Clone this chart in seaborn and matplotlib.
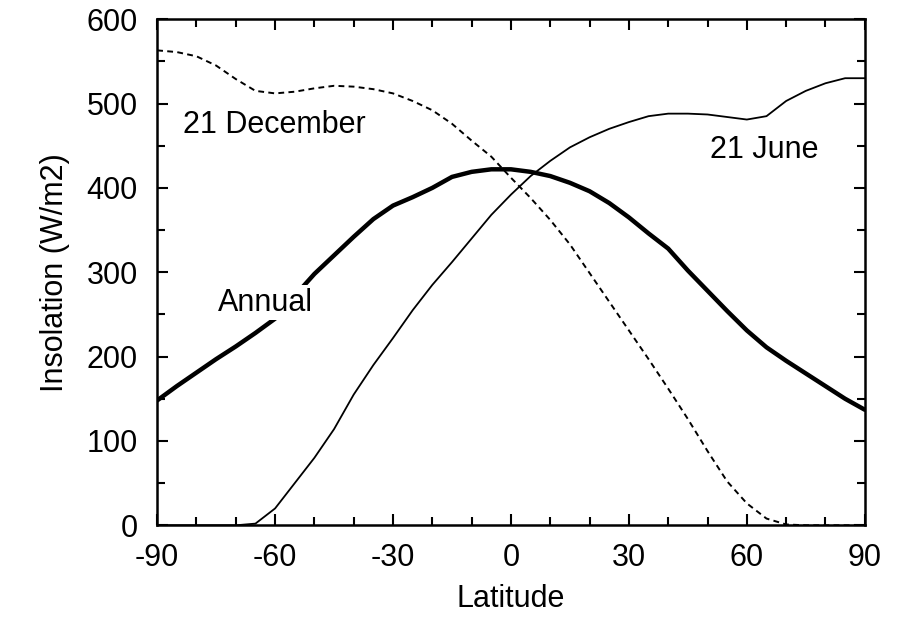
import numpy as np
import pandas as pd
import matplotlib
matplotlib.use("Agg")
import matplotlib.pyplot as plt
from matplotlib.ticker import MultipleLocator
import seaborn as sns

latitude = list(range(-90, 95, 5))
annual = [148, 165, 181, 197, 212, 228, 245, 272, 298, 320, 342, 363, 379, 389, 400, 413,
          419, 422, 422, 419, 414, 406, 396, 382, 365, 346, 328, 302, 278, 254, 231, 211,
          195, 180, 165, 150, 137]
june21 = [0, 0, 0, 0, 0, 2, 20, 50, 80, 114, 155, 190, 222, 255, 285, 312, 340, 368, 392,
          414, 432, 448, 460, 470, 478, 485, 488, 488, 487, 484, 481, 485, 503, 515, 524, 530, 530]
dec21 = [563, 561, 556, 545, 529, 515, 512, 514, 518, 521, 520, 517, 512, 503, 492, 476,
         456, 437, 412, 388, 362, 333, 299, 265, 231, 197, 162, 126, 88, 52, 26, 8, 1, 0, 0, 0, 0]

xticks = [-90, -60, -30, 0, 30, 60, 90]
yticks = [0, 100, 200, 300, 400, 500, 600]

df = pd.DataFrame({"Latitude": latitude, "Annual": annual, "21 June": june21, "21 December": dec21})

sns.set_style("ticks")
plt.rcParams["font.family"] = ["Liberation Sans", "DejaVu Sans"]
plt.rcParams["text.color"] = "black"
plt.rcParams["axes.labelcolor"] = "black"
plt.rcParams["xtick.color"] = "black"
plt.rcParams["ytick.color"] = "black"

FS = 22

fig = plt.figure(figsize=(8.98, 6.18), dpi=100)
ax = fig.add_axes([0.175, 0.150, 0.788, 0.819])

sns.lineplot(data=df, x="Latitude", y="Annual", ax=ax, color="black", linewidth=3.2)
sns.lineplot(data=df, x="Latitude", y="21 June", ax=ax, color="black", linewidth=1.3)
sns.lineplot(data=df, x="Latitude", y="21 December", ax=ax, color="black", linewidth=1.4,
             dashes=False, linestyle=(0, (3, 2.2)))

ax.set_xlim(-90, 90)
ax.set_ylim(0, 600)
ax.set_xticks(xticks)
ax.set_xticklabels([str(t) for t in xticks])
ax.set_yticks(yticks)
ax.set_yticklabels([str(t) for t in yticks])
ax.xaxis.set_minor_locator(MultipleLocator(10))
ax.yaxis.set_minor_locator(MultipleLocator(50))
ax.tick_params(which="both", direction="in", top=True, right=True, color="black", width=1.5)
ax.tick_params(which="major", length=8, labelsize=FS)
ax.tick_params(axis="x", which="major", pad=13)
ax.tick_params(axis="y", which="major", pad=14)
ax.tick_params(which="minor", length=6)
for s in ax.spines.values():
    s.set_linewidth(1.8)
    s.set_color("black")

ax.set_xlabel("Latitude", fontsize=FS, labelpad=8)
ax.set_ylabel("Insolation (W/m2)", fontsize=FS, labelpad=12)

ax.text(-83.5, 474, "21 December", fontsize=FS, va="center", ha="left")
ax.text(50.6, 445, "21 June", fontsize=FS, va="center", ha="left")
ax.text(-74.5, 264, "Annual", fontsize=FS, va="center", ha="left", zorder=5,
        bbox=dict(facecolor="white", edgecolor="none", pad=1.5))

fig.savefig("out.png", dpi=100)
